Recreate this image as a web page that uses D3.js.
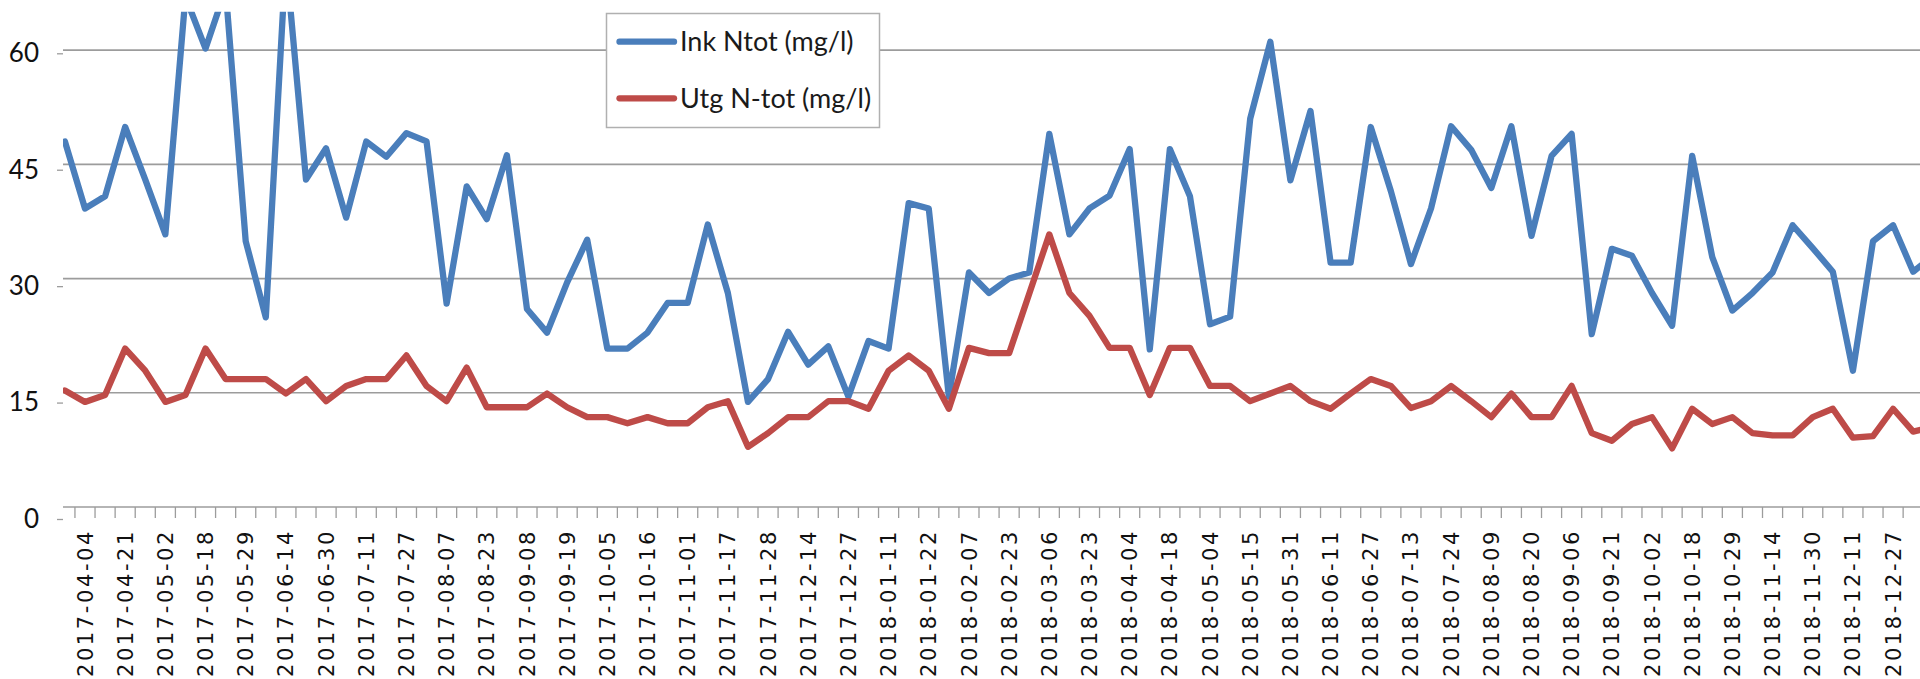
<!DOCTYPE html>
<html>
  <head>
    <meta charset="utf-8">
    <script src="https://d3js.org/d3.v7.min.js"></script>
    <style>
      body { margin: 0; background: #fff; overflow: hidden; }
    </style>
  </head>
  <body>
    <div id="chart"></div>
    <script type="text/javascript">
    // labels on the category axis, only every second sample gets one
    var dateLabels = [
      "2017-04-04", "2017-04-21", "2017-05-02", "2017-05-18", "2017-05-29", "2017-06-14",
      "2017-06-30", "2017-07-11", "2017-07-27", "2017-08-07", "2017-08-23", "2017-09-08",
      "2017-09-19", "2017-10-05", "2017-10-16", "2017-11-01", "2017-11-17", "2017-11-28",
      "2017-12-14", "2017-12-27", "2018-01-11", "2018-01-22", "2018-02-07", "2018-02-23",
      "2018-03-06", "2018-03-23", "2018-04-04", "2018-04-18", "2018-05-04", "2018-05-15",
      "2018-05-31", "2018-06-11", "2018-06-27", "2018-07-13", "2018-07-24", "2018-08-09",
      "2018-08-20", "2018-09-06", "2018-09-21", "2018-10-02", "2018-10-18", "2018-10-29",
      "2018-11-14", "2018-11-30", "2018-12-11", "2018-12-27"
    ];

    // one value per sample; the first and the last sample sit on the cropped edges
    var inkNtot = [
      48.0, 39.2, 40.8, 49.9, 43.0, 35.8, 67.0, 60.2, 68.0, 34.9,
      24.9, 72.0, 43.0, 47.1, 38.0, 48.0, 46.0, 49.1, 48.0, 26.7,
      42.1, 37.8, 46.2, 26.0, 22.9, 29.5, 35.1, 20.8, 20.8, 22.9,
      26.8, 26.8, 37.1, 28.1, 13.8, 16.8, 23.0, 18.7, 21.1, 14.5,
      21.8, 20.8, 39.9, 39.2, 14.5, 30.8, 28.1, 30.0, 30.8, 49.0,
      35.8, 39.2, 40.9, 47.0, 20.7, 47.0, 40.8, 24.0, 25.0, 51.0,
      61.1, 42.9, 52.0, 32.1, 32.1, 49.9, 41.5, 31.9, 39.2, 50.0,
      46.9, 41.9, 50.0, 35.6, 46.1, 49.0, 22.7, 33.9, 33.0, 28.1,
      23.8, 46.1, 32.8, 25.8, 28.1, 30.8, 37.0, 34.0, 30.9, 17.9,
      34.9, 37.0, 30.9, 33.0
    ];
    var utgNtot = [
      15.3, 13.8, 14.7, 20.8, 17.9, 13.8, 14.7, 20.8, 16.8, 16.8,
      16.8, 14.9, 16.8, 13.9, 15.9, 16.8, 16.8, 19.9, 15.9, 13.9,
      18.3, 13.1, 13.1, 13.1, 14.9, 13.1, 11.8, 11.8, 11.0, 11.8,
      11.0, 11.0, 13.1, 13.9, 7.9, 9.7, 11.8, 11.8, 13.9, 13.9,
      12.9, 17.9, 19.9, 17.9, 12.9, 20.9, 20.2, 20.2, 28.0, 35.8,
      28.1, 25.1, 20.9, 20.9, 14.7, 20.9, 20.9, 15.9, 15.9, 13.9,
      14.9, 15.9, 13.9, 12.9, 14.9, 16.8, 15.9, 13.0, 13.9, 15.9,
      13.9, 11.8, 14.9, 11.8, 11.8, 15.9, 9.7, 8.7, 10.9, 11.8,
      7.7, 12.9, 10.9, 11.8, 9.7, 9.4, 9.4, 11.8, 12.9, 9.1,
      9.3, 12.9, 9.9, 10.5
    ];

    var yTicks = [0, 15, 30, 45, 60];
    var seriesNames = ["Ink Ntot (mg/l)", "Utg N-tot (mg/l)"];
    var seriesColors = ["#4a7ebb", "#be4b48"];

    function draw() {
      "use strict";
      var width = 1920,
        height = 679,
        left = 63,
        top = 12,
        bottom = 507,
        step = 20.09,
        n = inkNtot.length;

      var svg = d3.select("#chart")
        .append("svg")
        .attr("width", width)
        .attr("height", height)
        .style("display", "block");

      svg.append("rect").attr("width", width).attr("height", height).attr("fill", "#fff");

      var x = d3.scalePoint()
        .domain(d3.range(n))
        .range([64.9, 64.9 + (n - 1) * step]);
      var y = d3.scaleLinear().domain([0, 65]).range([bottom, top]);
      // value axis labels sit a bit lower than the gridlines in the original
      var yLab = d3.scaleLinear().domain([0, 60]).range([519, 53.3]);

      svg.append("clipPath").attr("id", "plotclip")
        .append("rect")
        .attr("x", left).attr("y", top - 0.3)
        .attr("width", width - left).attr("height", height - top);

      //gridlines
      svg.append("g").selectAll("line")
        .data(yTicks.filter(function(d) { return d > 0; }))
        .enter().append("line")
        .attr("x1", left).attr("x2", width)
        .attr("y1", function(d) { return y(d); })
        .attr("y2", function(d) { return y(d); })
        .attr("stroke", "#9c9c9c")
        .attr("stroke-width", 1.7);

      //category axis line and ticks between categories
      svg.append("line")
        .attr("x1", left).attr("x2", width)
        .attr("y1", y(0)).attr("y2", y(0))
        .attr("stroke", "#9c9c9c")
        .attr("stroke-width", 1.7);

      svg.append("g").selectAll("line")
        .data(d3.range(n - 1))
        .enter().append("line")
        .attr("x1", function(i) { return x(i) + step / 2; })
        .attr("x2", function(i) { return x(i) + step / 2; })
        .attr("y1", y(0)).attr("y2", y(0) + 11)
        .attr("stroke", "#9c9c9c")
        .attr("stroke-width", 1.3);

      //date labels on every second category
      svg.append("g").selectAll("text")
        .data(dateLabels)
        .enter().append("text")
        .attr("transform", function(d, j) {
          return "translate(" + x(2 * j + 1) + ",529) rotate(-90)";
        })
        .attr("dy", "0.36em")
        .style("text-anchor", "end")
        .style("font-family", "'DejaVu Sans', sans-serif")
        .style("font-size", "21px")
        .style("letter-spacing", "2.6px")
        .style("fill", "#111")
        .text(function(d) { return d; });

      //value axis: labels and short ticks only
      var yAxis = svg.append("g")
        .attr("transform", "translate(" + left + ",0)")
        .call(d3.axisLeft(yLab).tickValues(yTicks).tickSize(6).tickPadding(18));
      yAxis.select(".domain").remove();
      yAxis.selectAll(".tick line").attr("stroke", "#9c9c9c").attr("stroke-width", 1.3);
      yAxis.selectAll(".tick text")
        .style("font-family", "Lato, sans-serif")
        .style("font-size", "26px")
        .style("fill", "#111");

      //the two series
      var line = d3.line()
        .x(function(d, i) { return x(i); })
        .y(function(d) { return y(d); });

      var plot = svg.append("g").attr("clip-path", "url(#plotclip)");
      [inkNtot, utgNtot].forEach(function(values, k) {
        plot.append("path")
          .datum(values)
          .attr("d", line)
          .attr("fill", "none")
          .attr("stroke", seriesColors[k])
          .attr("stroke-width", 6.3)
          .attr("stroke-linejoin", "round")
          .attr("stroke-linecap", "round");
      });

      //legend box
      var legend = svg.append("g");
      legend.append("rect")
        .attr("x", 606.5).attr("y", 13.5)
        .attr("width", 273).attr("height", 114)
        .attr("fill", "#fff")
        .attr("stroke", "#b0b0b0")
        .attr("stroke-width", 1.5);

      var rows = legend.selectAll("g.row")
        .data(seriesNames)
        .enter().append("g")
        .attr("class", "row")
        .attr("transform", function(d, k) { return "translate(0," + (41.7 + k * 56.6) + ")"; });
      rows.append("line")
        .attr("x1", 619.5).attr("x2", 674)
        .attr("stroke", function(d, k) { return seriesColors[k]; })
        .attr("stroke-width", 6.3)
        .attr("stroke-linecap", "round");
      rows.append("text")
        .attr("x", 680)
        .attr("y", 9.5)
        .style("font-family", "Lato, sans-serif")
        .style("font-size", "27px")
        .style("fill", "#1a1a1a")
        .text(function(d) { return d; });
    }

    draw();
    </script>
  </body>
</html>
